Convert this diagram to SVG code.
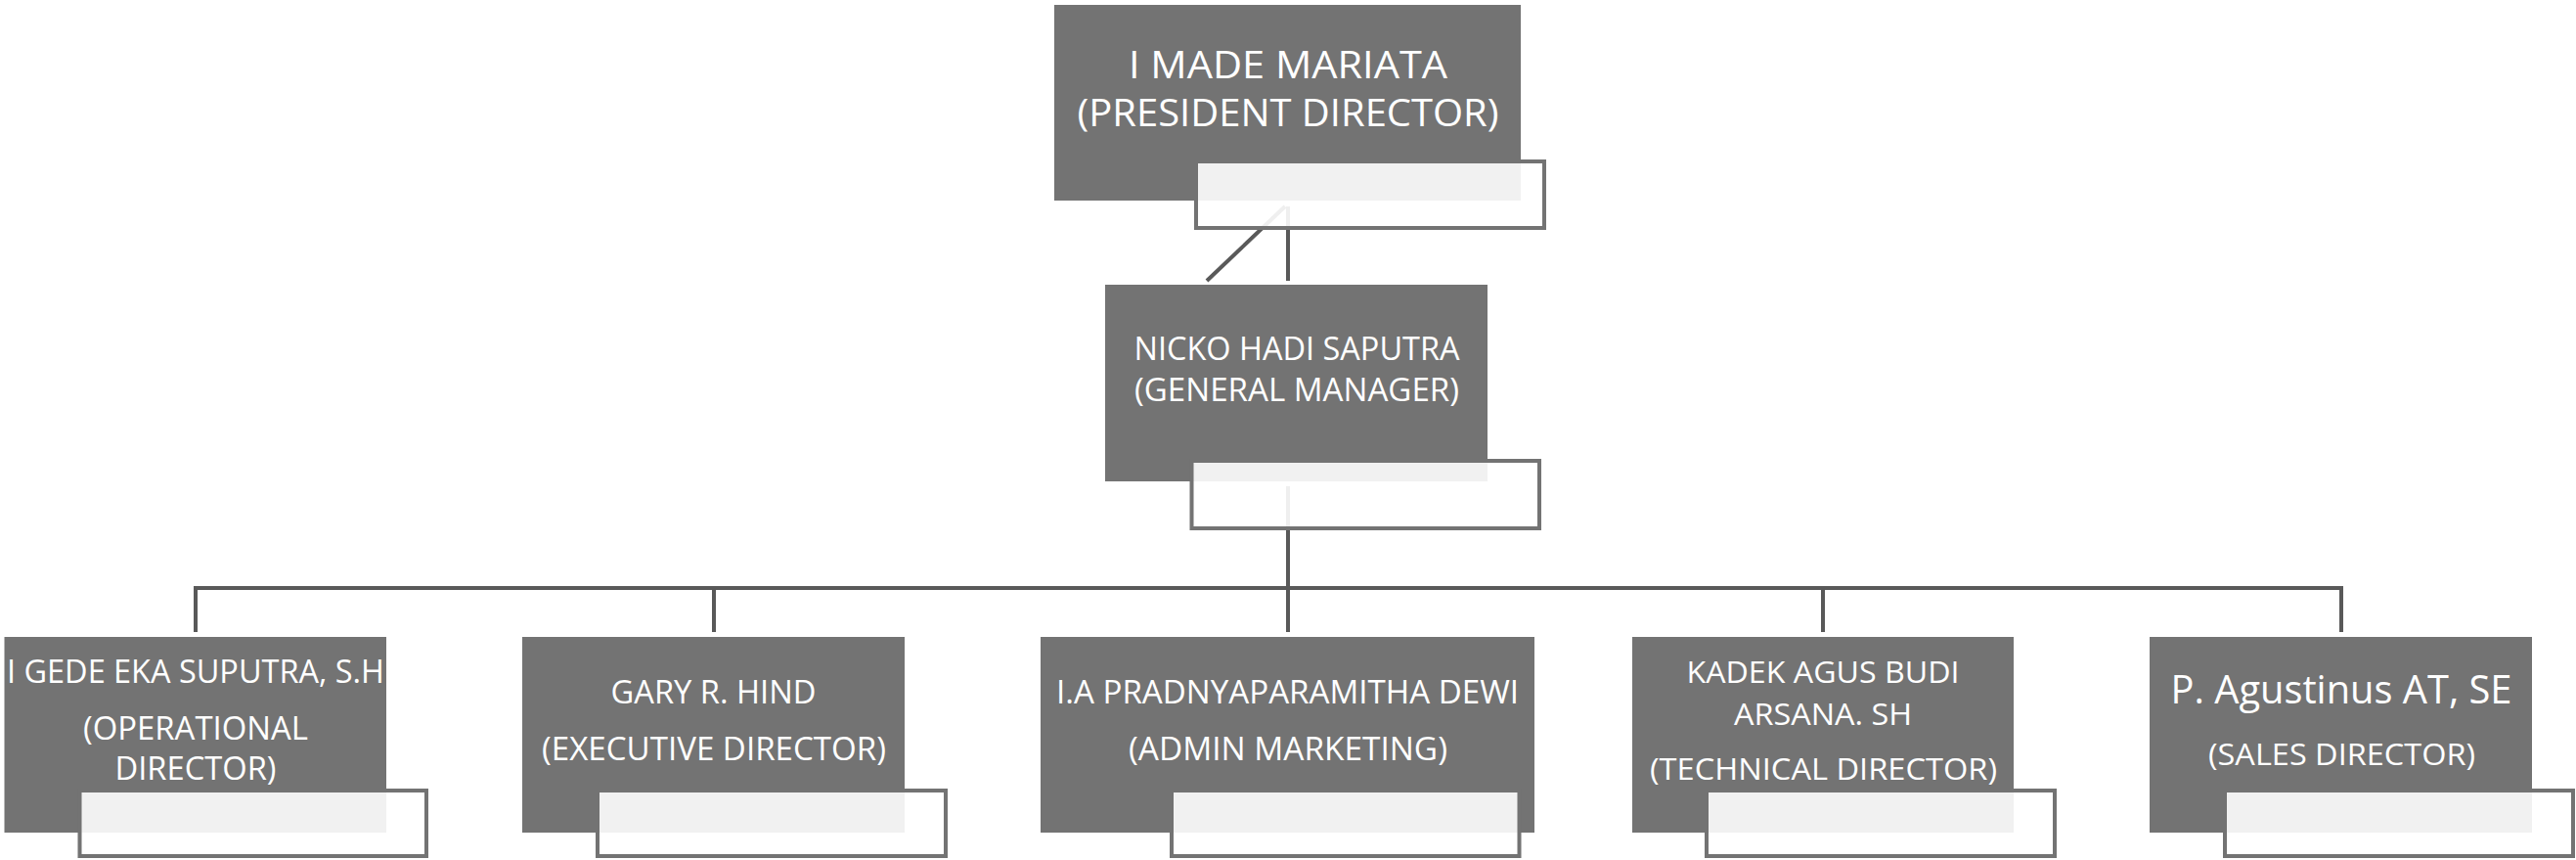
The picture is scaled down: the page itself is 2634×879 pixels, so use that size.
<svg xmlns="http://www.w3.org/2000/svg" width="2634" height="879" viewBox="0 0 2634 879">
<style>
.box{fill:#737373;}
.ov{fill:#ffffff;fill-opacity:0.9;stroke:#737373;stroke-width:4;}
.conn{fill:none;stroke:#595959;stroke-width:4;stroke-linejoin:miter;}
text{font-family:"Open Sans","Noto Sans",sans-serif;fill:#ffffff;text-anchor:middle;}
.t1{font-size:39px;}
.t2{font-size:32px;}
.t3{font-size:33px;}
.t4{font-size:41px;}
.t5{font-size:31px;}
</style>
<rect width="2634" height="879" fill="#ffffff"/>
<g id="connectors">
<path class="conn" d="M1234,287 L1314,211"/>
<path class="conn" d="M1317,211 V287"/>
<path class="conn" d="M1317,497 V646"/>
<path class="conn" d="M200,646 V601 H2394 V646"/>
<path class="conn" d="M730,601 V646"/>
<path class="conn" d="M1864,601 V646"/>
</g>
<g id="node-president">
<rect class="box" x="1078" y="5" width="477" height="200"/>
<text class="t1" x="1317" y="80" textLength="326" lengthAdjust="spacingAndGlyphs">I MADE MARIATA</text>
<text class="t1" x="1317" y="129" textLength="431" lengthAdjust="spacingAndGlyphs">(PRESIDENT DIRECTOR)</text>
<rect class="ov" x="1223" y="165" width="356" height="68"/>
</g>
<g id="node-gm">
<rect class="box" x="1130" y="291" width="391" height="201"/>
<text class="t2" x="1326" y="368" textLength="333" lengthAdjust="spacingAndGlyphs">NICKO HADI SAPUTRA</text>
<text class="t2" x="1326" y="410" textLength="332" lengthAdjust="spacingAndGlyphs">(GENERAL MANAGER)</text>
<rect class="ov" x="1218.5" y="471" width="355.5" height="69"/>
</g>
<g id="node-operational">
<rect class="box" x="4.5" y="651" width="390.5" height="200"/>
<text class="t3" x="200" y="698" textLength="386" lengthAdjust="spacingAndGlyphs">I GEDE EKA SUPUTRA, S.H</text>
<text class="t3" x="200" y="756" textLength="230" lengthAdjust="spacingAndGlyphs">(OPERATIONAL</text>
<text class="t3" x="200" y="797" textLength="165" lengthAdjust="spacingAndGlyphs">DIRECTOR)</text>
<rect class="ov" x="81.5" y="808" width="354.5" height="67"/>
</g>
<g id="node-executive">
<rect class="box" x="534" y="651" width="391" height="200"/>
<text class="t3" x="729.5" y="719" textLength="210" lengthAdjust="spacingAndGlyphs">GARY R. HIND</text>
<text class="t3" x="730" y="777" textLength="352" lengthAdjust="spacingAndGlyphs">(EXECUTIVE DIRECTOR)</text>
<rect class="ov" x="611" y="808" width="356" height="67"/>
</g>
<g id="node-admin">
<rect class="box" x="1064" y="651" width="505" height="200"/>
<text class="t3" x="1316.5" y="719" textLength="473" lengthAdjust="spacingAndGlyphs">I.A PRADNYAPARAMITHA DEWI</text>
<text class="t3" x="1317" y="777" textLength="326" lengthAdjust="spacingAndGlyphs">(ADMIN MARKETING)</text>
<rect class="ov" x="1198" y="808" width="355.5" height="67"/>
</g>
<g id="node-technical">
<rect class="box" x="1669" y="651" width="390" height="200"/>
<text class="t5" x="1864" y="698" textLength="279" lengthAdjust="spacingAndGlyphs">KADEK AGUS BUDI</text>
<text class="t5" x="1864" y="741" textLength="182" lengthAdjust="spacingAndGlyphs">ARSANA. SH</text>
<text class="t5" x="1864.5" y="797" textLength="355" lengthAdjust="spacingAndGlyphs">(TECHNICAL DIRECTOR)</text>
<rect class="ov" x="1745" y="808" width="356" height="67"/>
</g>
<g id="node-sales">
<rect class="box" x="2198" y="651" width="391" height="200"/>
<text class="t4" x="2394" y="719" textLength="349" lengthAdjust="spacingAndGlyphs">P. Agustinus AT, SE</text>
<text class="t5" x="2394.5" y="782" textLength="273" lengthAdjust="spacingAndGlyphs">(SALES DIRECTOR)</text>
<rect class="ov" x="2275" y="808" width="356" height="67"/>
</g>
</svg>
